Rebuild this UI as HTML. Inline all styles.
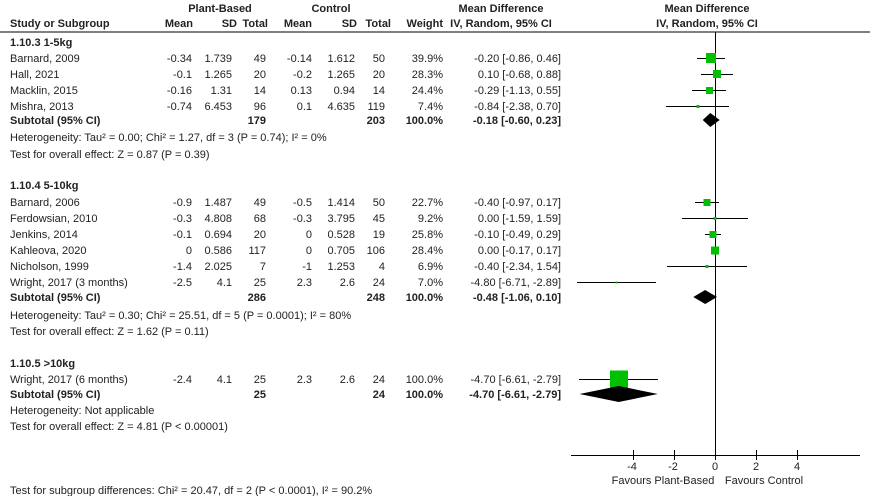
<!DOCTYPE html>
<html><head><meta charset="utf-8"><style>
html,body{margin:0;padding:0;background:#fff;}
svg{display:block;font-family:"Liberation Sans",Arial,sans-serif;font-size:11px;fill:#222;}
.b{font-weight:bold;}
.e{text-anchor:end;}
.m{text-anchor:middle;}
</style></head><body>
<svg width="870" height="496" viewBox="0 0 870 496" xmlns="http://www.w3.org/2000/svg">
<g class="b">
<text x="220" y="12" class="m">Plant-Based</text>
<text x="331" y="12" class="m">Control</text>
<text x="501" y="12" class="m">Mean Difference</text>
<text x="707" y="12" class="m">Mean Difference</text>
<text x="10" y="27">Study or Subgroup</text>
<text x="193" y="27" class="e">Mean</text>
<text x="237" y="27" class="e">SD</text>
<text x="268" y="27" class="e">Total</text>
<text x="312" y="27" class="e">Mean</text>
<text x="357" y="27" class="e">SD</text>
<text x="391" y="27" class="e">Total</text>
<text x="443" y="27" class="e">Weight</text>
<text x="501" y="27" class="m">IV, Random, 95% CI</text>
<text x="707" y="27" class="m">IV, Random, 95% CI</text>
</g>
<line x1="0" y1="32" x2="870" y2="32" stroke="#000" stroke-width="1"/>

<text x="10" y="46" class="b">1.10.3 1-5kg</text>
<g>
<text x="10" y="62">Barnard, 2009</text><text x="192" y="62" class="e">-0.34</text><text x="232" y="62" class="e">1.739</text><text x="266" y="62" class="e">49</text><text x="312" y="62" class="e">-0.14</text><text x="355" y="62" class="e">1.612</text><text x="385" y="62" class="e">50</text><text x="443" y="62" class="e">39.9%</text><text x="561" y="62" class="e">-0.20 [-0.86, 0.46]</text>
<text x="10" y="78">Hall, 2021</text><text x="192" y="78" class="e">-0.1</text><text x="232" y="78" class="e">1.265</text><text x="266" y="78" class="e">20</text><text x="312" y="78" class="e">-0.2</text><text x="355" y="78" class="e">1.265</text><text x="385" y="78" class="e">20</text><text x="443" y="78" class="e">28.3%</text><text x="561" y="78" class="e">0.10 [-0.68, 0.88]</text>
<text x="10" y="94">Macklin, 2015</text><text x="192" y="94" class="e">-0.16</text><text x="232" y="94" class="e">1.31</text><text x="266" y="94" class="e">14</text><text x="312" y="94" class="e">0.13</text><text x="355" y="94" class="e">0.94</text><text x="385" y="94" class="e">14</text><text x="443" y="94" class="e">24.4%</text><text x="561" y="94" class="e">-0.29 [-1.13, 0.55]</text>
<text x="10" y="110">Mishra, 2013</text><text x="192" y="110" class="e">-0.74</text><text x="232" y="110" class="e">6.453</text><text x="266" y="110" class="e">96</text><text x="312" y="110" class="e">0.1</text><text x="355" y="110" class="e">4.635</text><text x="385" y="110" class="e">119</text><text x="443" y="110" class="e">7.4%</text><text x="561" y="110" class="e">-0.84 [-2.38, 0.70]</text>
</g>
<g class="b"><text x="10" y="124">Subtotal (95% CI)</text><text x="266" y="124" class="e">179</text><text x="385" y="124" class="e">203</text><text x="443" y="124" class="e">100.0%</text><text x="561" y="124" class="e">-0.18 [-0.60, 0.23]</text></g>
<text x="10" y="141">Heterogeneity: Tau² = 0.00; Chi² = 1.27, df = 3 (P = 0.74); I² = 0%</text>
<text x="10" y="158">Test for overall effect: Z = 0.87 (P = 0.39)</text>

<text x="10" y="189" class="b">1.10.4 5-10kg</text>
<g>
<text x="10" y="206">Barnard, 2006</text><text x="192" y="206" class="e">-0.9</text><text x="232" y="206" class="e">1.487</text><text x="266" y="206" class="e">49</text><text x="312" y="206" class="e">-0.5</text><text x="355" y="206" class="e">1.414</text><text x="385" y="206" class="e">50</text><text x="443" y="206" class="e">22.7%</text><text x="561" y="206" class="e">-0.40 [-0.97, 0.17]</text>
<text x="10" y="222">Ferdowsian, 2010</text><text x="192" y="222" class="e">-0.3</text><text x="232" y="222" class="e">4.808</text><text x="266" y="222" class="e">68</text><text x="312" y="222" class="e">-0.3</text><text x="355" y="222" class="e">3.795</text><text x="385" y="222" class="e">45</text><text x="443" y="222" class="e">9.2%</text><text x="561" y="222" class="e">0.00 [-1.59, 1.59]</text>
<text x="10" y="238">Jenkins, 2014</text><text x="192" y="238" class="e">-0.1</text><text x="232" y="238" class="e">0.694</text><text x="266" y="238" class="e">20</text><text x="312" y="238" class="e">0</text><text x="355" y="238" class="e">0.528</text><text x="385" y="238" class="e">19</text><text x="443" y="238" class="e">25.8%</text><text x="561" y="238" class="e">-0.10 [-0.49, 0.29]</text>
<text x="10" y="254">Kahleova, 2020</text><text x="192" y="254" class="e">0</text><text x="232" y="254" class="e">0.586</text><text x="266" y="254" class="e">117</text><text x="312" y="254" class="e">0</text><text x="355" y="254" class="e">0.705</text><text x="385" y="254" class="e">106</text><text x="443" y="254" class="e">28.4%</text><text x="561" y="254" class="e">0.00 [-0.17, 0.17]</text>
<text x="10" y="270">Nicholson, 1999</text><text x="192" y="270" class="e">-1.4</text><text x="232" y="270" class="e">2.025</text><text x="266" y="270" class="e">7</text><text x="312" y="270" class="e">-1</text><text x="355" y="270" class="e">1.253</text><text x="385" y="270" class="e">4</text><text x="443" y="270" class="e">6.9%</text><text x="561" y="270" class="e">-0.40 [-2.34, 1.54]</text>
<text x="10" y="286">Wright, 2017 (3 months)</text><text x="192" y="286" class="e">-2.5</text><text x="232" y="286" class="e">4.1</text><text x="266" y="286" class="e">25</text><text x="312" y="286" class="e">2.3</text><text x="355" y="286" class="e">2.6</text><text x="385" y="286" class="e">24</text><text x="443" y="286" class="e">7.0%</text><text x="561" y="286" class="e">-4.80 [-6.71, -2.89]</text>
</g>
<g class="b"><text x="10" y="301">Subtotal (95% CI)</text><text x="266" y="301" class="e">286</text><text x="385" y="301" class="e">248</text><text x="443" y="301" class="e">100.0%</text><text x="561" y="301" class="e">-0.48 [-1.06, 0.10]</text></g>
<text x="10" y="319">Heterogeneity: Tau² = 0.30; Chi² = 25.51, df = 5 (P = 0.0001); I² = 80%</text>
<text x="10" y="335">Test for overall effect: Z = 1.62 (P = 0.11)</text>

<text x="10" y="367" class="b">1.10.5 &gt;10kg</text>
<text x="10" y="383">Wright, 2017 (6 months)</text><text x="192" y="383" class="e">-2.4</text><text x="232" y="383" class="e">4.1</text><text x="266" y="383" class="e">25</text><text x="312" y="383" class="e">2.3</text><text x="355" y="383" class="e">2.6</text><text x="385" y="383" class="e">24</text><text x="443" y="383" class="e">100.0%</text><text x="561" y="383" class="e">-4.70 [-6.61, -2.79]</text>
<g class="b"><text x="10" y="398">Subtotal (95% CI)</text><text x="266" y="398" class="e">25</text><text x="385" y="398" class="e">24</text><text x="443" y="398" class="e">100.0%</text><text x="561" y="398" class="e">-4.70 [-6.61, -2.79]</text></g>
<text x="10" y="414">Heterogeneity: Not applicable</text>
<text x="10" y="430">Test for overall effect: Z = 4.81 (P &lt; 0.00001)</text>

<text x="10" y="494">Test for subgroup differences: Chi² = 20.47, df = 2 (P &lt; 0.0001), I² = 90.2%</text>

<g stroke="#000" stroke-width="1" fill="none">
<line x1="715.5" y1="32" x2="715.5" y2="455"/>
<line x1="571" y1="455.5" x2="860" y2="455.5"/>
<line x1="633.5" y1="450" x2="633.5" y2="460"/>
<line x1="674.5" y1="450" x2="674.5" y2="460"/>
<line x1="715.5" y1="450" x2="715.5" y2="460"/>
<line x1="756.5" y1="450" x2="756.5" y2="460"/>
<line x1="797.5" y1="450" x2="797.5" y2="460"/>
<line x1="697" y1="58.5" x2="725" y2="58.5"/>
<line x1="701" y1="74.5" x2="733" y2="74.5"/>
<line x1="692" y1="90.5" x2="726" y2="90.5"/>
<line x1="666" y1="106.5" x2="729" y2="106.5"/>
<line x1="695" y1="202.5" x2="719" y2="202.5"/>
<line x1="682" y1="218.5" x2="748" y2="218.5"/>
<line x1="705" y1="234.5" x2="721" y2="234.5"/>
<line x1="711" y1="250.5" x2="719" y2="250.5"/>
<line x1="667" y1="266.5" x2="747" y2="266.5"/>
<line x1="577" y1="282.5" x2="656" y2="282.5"/>
<line x1="579" y1="379.5" x2="658" y2="379.5"/>
</g>
<g fill="#00c000">
<rect x="706" y="53" width="10" height="10"/>
<rect x="713" y="70" width="8" height="8"/>
<rect x="706" y="87" width="7" height="7"/>
<rect x="696.5" y="105" width="3" height="3"/>
<rect x="703.5" y="199" width="7" height="7"/>
<rect x="713.5" y="217" width="3" height="3"/>
<rect x="709.5" y="231" width="7" height="7"/>
<rect x="711" y="246.5" width="8" height="8"/>
<rect x="705.5" y="265" width="3" height="3"/>
<rect x="615.5" y="281.5" width="2" height="2"/>
<rect x="610" y="370.5" width="18" height="18"/>
</g>
<g fill="#000">
<polygon points="702.7,120 710.3,113 719.7,120 710.3,127"/>
<polygon points="693.3,297 705.2,290 717,297 705.2,304"/>
<polygon points="579.5,394 618.7,386 657.8,394 618.7,402"/>
</g>
<g class="m">
<text x="632" y="470">-4</text>
<text x="673" y="470">-2</text>
<text x="715" y="470">0</text>
<text x="756" y="470">2</text>
<text x="797" y="470">4</text>
</g>
<text x="663" y="484" class="m">Favours Plant-Based</text>
<text x="764" y="484" class="m">Favours Control</text>
</svg>
</body></html>
